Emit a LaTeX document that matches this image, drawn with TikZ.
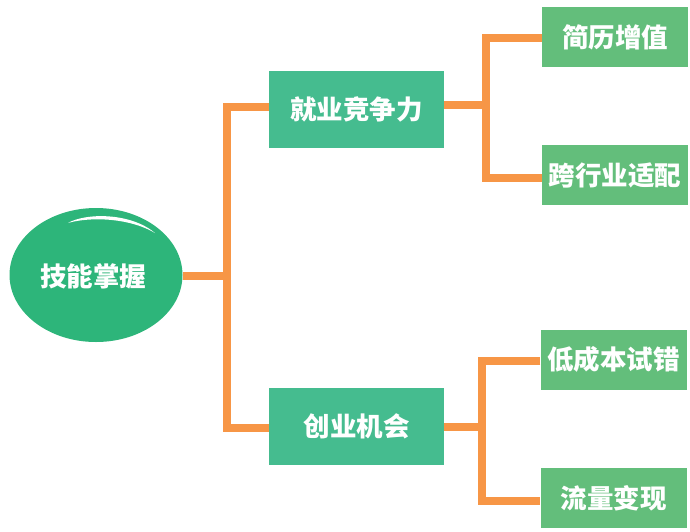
\documentclass[tikz,border=0pt]{standalone}
\usepackage{fontspec}
\usetikzlibrary{shapes.geometric}
\setmainfont{Noto Sans CJK SC}
\definecolor{ellgreen}{HTML}{2DB57A}
\definecolor{midgreen}{HTML}{45BC8F}
\definecolor{leafgreen}{HTML}{63BE7B}
\definecolor{conn}{HTML}{F79646}
\begin{document}
\begin{tikzpicture}[x=1pt,y=-1pt,
  lbl/.style={text=white, font=\fontsize{26.5}{26.5}\selectfont\bfseries},
  midbox/.style={lbl, fill=midgreen, minimum width=175pt, minimum height=77pt, inner sep=0pt},
  leafbox/.style={lbl, fill=leafgreen, minimum width=146pt, minimum height=60pt, inner sep=0pt},
  link/.style={draw=conn, line width=8pt, line join=miter}]
\useasboundingbox (0,0) rectangle (690,531);
\node[ellipse, fill=ellgreen, minimum width=173pt, minimum height=134pt, inner sep=0pt] (root) at (96,275) {};
\node[lbl] (roottext) at (93,276) {技能掌握};
\fill[white] (68,223) .. controls (85,213) and (130,212) .. (155,233) .. controls (128,217) and (88,217) .. (68,223) -- cycle;
\node[midbox] (jy) at (356.5,109.5) {就业竞争力};
\node[midbox] (cy) at (356.5,426.5) {创业机会};
\node[leafbox] (l1) at (615,37) {简历增值};
\node[leafbox] (l2) at (615,175) {跨行业适配};
\node[leafbox] (l3) at (613.5,359.5) {低成本试错};
\node[leafbox] (l4) at (613.5,498) {流量变现};
\draw[link] (root.east |- 0,276) -- (227,276);
\draw[link] (jy.west |- 0,107) -- (227,107) -- (227,428) -- (cy.west |- 0,428);
\draw[link] (jy.east |- 0,105) -- (486,105);
\draw[link] (l1.west |- 0,38) -- (486,38) -- (486,178) -- (l2.west |- 0,178);
\draw[link] (cy.east |- 0,427) -- (482,427);
\draw[link] (l3.west |- 0,361) -- (482,361) -- (482,501) -- (l4.west |- 0,501);
\end{tikzpicture}
\end{document}
